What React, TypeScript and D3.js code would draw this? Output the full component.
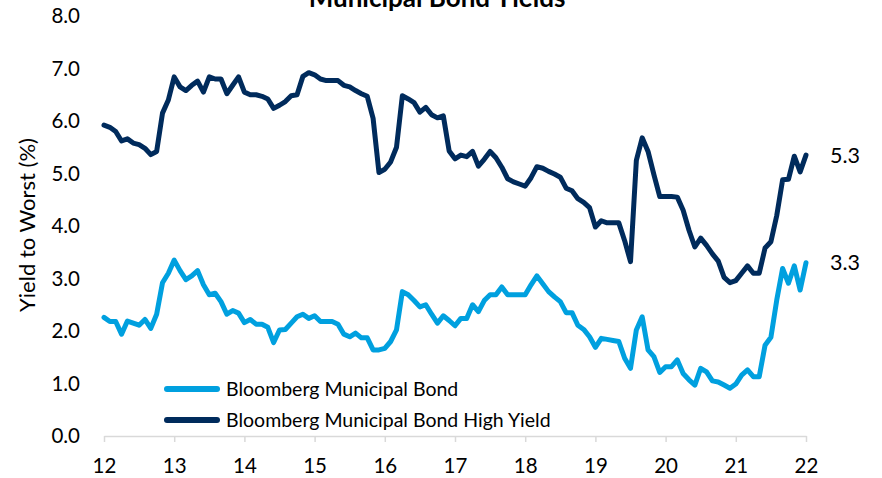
import React, { useEffect, useRef } from "react";
import * as d3 from "d3";

// x axis labels (years, 20xx) and y axis ticks
const years = [12, 13, 14, 15, 16, 17, 18, 19, 20, 21, 22];
const yTicks = [0, 1, 2, 3, 4, 5, 6, 7, 8];

// monthly yield to worst (%), Jan 2012 .. Jan 2022
const muniBond = [
  2.26, 2.18, 2.18, 1.94, 2.19, 2.15, 2.11, 2.22, 2.05, 2.32, 2.92, 3.1,
  3.35, 3.15, 2.98, 3.05, 3.15, 2.88, 2.69, 2.72, 2.56, 2.32, 2.39, 2.34,
  2.16, 2.22, 2.13, 2.13, 2.07, 1.78, 2.02, 2.03, 2.15, 2.27, 2.32, 2.24,
  2.29, 2.18, 2.18, 2.18, 2.13, 1.94, 1.89, 1.96, 1.87, 1.87, 1.64, 1.64,
  1.67, 1.8, 2.02, 2.75, 2.69, 2.58, 2.46, 2.5, 2.32, 2.15, 2.29, 2.2,
  2.1, 2.24, 2.24, 2.5, 2.37, 2.58, 2.69, 2.69, 2.84, 2.69, 2.69, 2.69,
  2.69, 2.88, 3.05, 2.9, 2.75, 2.65, 2.56, 2.35, 2.35, 2.11, 2.03, 1.89,
  1.69, 1.86, 1.84, 1.82, 1.8, 1.48, 1.29, 2.02, 2.27, 1.64, 1.51, 1.21,
  1.32, 1.32, 1.45, 1.19, 1.07, 0.97, 1.29, 1.22, 1.05, 1.03, 0.97, 0.91,
  0.99, 1.16, 1.26, 1.13, 1.13, 1.73, 1.88, 2.59, 3.19, 2.91, 3.24, 2.78,
  3.3,
];

const highYield = [
  5.92, 5.88, 5.8, 5.62, 5.66, 5.58, 5.55, 5.48, 5.36, 5.42, 6.15, 6.4,
  6.84, 6.65, 6.58, 6.68, 6.76, 6.55, 6.84, 6.8, 6.8, 6.52, 6.68, 6.84,
  6.55, 6.5, 6.5, 6.47, 6.42, 6.24, 6.3, 6.37, 6.48, 6.5, 6.85, 6.92,
  6.88, 6.8, 6.77, 6.77, 6.77, 6.68, 6.65, 6.58, 6.52, 6.47, 6.05, 5.02,
  5.08, 5.22, 5.5, 6.48, 6.42, 6.35, 6.17, 6.26, 6.12, 6.06, 6.1, 5.43,
  5.28, 5.35, 5.32, 5.42, 5.14, 5.27, 5.42, 5.3, 5.12, 4.9, 4.84, 4.8,
  4.76, 4.92, 5.13, 5.1, 5.04, 4.99, 4.93, 4.72, 4.67, 4.52, 4.45, 4.35,
  3.98, 4.1, 4.06, 4.06, 4.06, 3.72, 3.32, 5.25, 5.68, 5.42, 4.98, 4.56,
  4.56, 4.56, 4.55, 4.3, 3.92, 3.6, 3.77, 3.63, 3.47, 3.33, 3.02, 2.92,
  2.96, 3.1, 3.24, 3.1, 3.1, 3.58, 3.7, 4.2, 4.88, 4.89, 5.33, 5.03,
  5.35,
];

const seriesNames = ["Bloomberg Municipal Bond", "Bloomberg Municipal Bond High Yield"];
const seriesColors = ["#00a0df", "#002b5c"];

export default function App() {
  const ref = useRef<SVGSVGElement>(null);

  useEffect(() => {
    const width = 882,
      height = 478,
      left = 104,
      right = 806,
      top = 16,
      bottom = 436,
      font = "Lato, 'Open Sans', sans-serif";

    const svg = d3.select(ref.current);
    svg.selectAll("*").remove();

    const x = d3.scaleLinear().domain([12, 22]).range([left, right]);
    const y = d3.scaleLinear().domain([0, 8]).range([bottom, top]);

    // title (cut off at the top, as in the source)
    svg
      .append("text")
      .attr("x", 437)
      .attr("y", 7)
      .attr("text-anchor", "middle")
      .attr("font-family", font)
      .attr("font-weight", "bold")
      .attr("font-size", 26)
      .attr("fill", "#000")
      .text("Municipal Bond Yields");

    // y tick labels
    svg
      .append("g")
      .selectAll("text")
      .data(yTicks)
      .enter()
      .append("text")
      .attr("x", 80)
      .attr("y", (d) => y(d))
      .attr("dy", "0.36em")
      .attr("text-anchor", "end")
      .attr("font-family", font)
      .attr("font-size", 20.5)
      .attr("fill", "#000")
      .text((d) => d.toFixed(1));

    // y axis title
    svg
      .append("text")
      .attr("transform", "translate(35,225) rotate(-90)")
      .attr("text-anchor", "middle")
      .attr("font-family", font)
      .attr("font-size", 22)
      .attr("fill", "#000")
      .text("Yield to Worst (%)");

    // x axis
    const xAxis = d3
      .axisBottom(x)
      .tickValues(years)
      .tickSize(6)
      .tickSizeOuter(0)
      .tickFormat((d) => String(d));
    const gx = svg
      .append("g")
      .attr("transform", "translate(0," + bottom + ")")
      .call(xAxis);
    gx.select(".domain").attr("stroke", "#d9d9d9").attr("stroke-width", 1.5);
    gx.selectAll(".tick line").attr("stroke", "#d9d9d9").attr("stroke-width", 1.5);
    gx.selectAll(".tick text")
      .attr("y", 22)
      .attr("font-family", font)
      .attr("font-size", 20.5)
      .attr("fill", "#000");

    // lines
    const line = d3
      .line<number>()
      .x((d, i) => x(12 + i / 12))
      .y((d) => y(d));

    [muniBond, highYield].forEach((values, k) => {
      svg
        .append("path")
        .datum(values)
        .attr("fill", "none")
        .attr("stroke", seriesColors[k])
        .attr("stroke-width", 5)
        .attr("stroke-linejoin", "round")
        .attr("stroke-linecap", "round")
        .attr("d", line);

      // last value label
      const last = values[values.length - 1];
      svg
        .append("text")
        .attr("x", 830)
        .attr("y", y(last))
        .attr("dy", "0.36em")
        .attr("font-family", font)
        .attr("font-size", 21.5)
        .attr("fill", "#000")
        .text(last.toFixed(1));
    });

    // legend
    const legend = svg
      .selectAll(".legend")
      .data(seriesNames)
      .enter()
      .append("g")
      .attr("transform", (d, i) => "translate(167," + (389 + i * 31) + ")");

    legend
      .append("line")
      .attr("x1", 0)
      .attr("x2", 50)
      .attr("stroke", (d, i) => seriesColors[i])
      .attr("stroke-width", 6)
      .attr("stroke-linecap", "round");

    legend
      .append("text")
      .attr("x", 59)
      .attr("dy", "0.35em")
      .attr("font-family", font)
      .attr("font-size", 19.5)
      .attr("fill", "#000")
      .text((d) => d);

    svg.attr("width", width).attr("height", height);
  }, []);

  return (
    <svg
      ref={ref}
      width={882}
      height={478}
      style={{ position: "absolute", left: 0, top: 0, background: "#fff" }}
    />
  );
}
